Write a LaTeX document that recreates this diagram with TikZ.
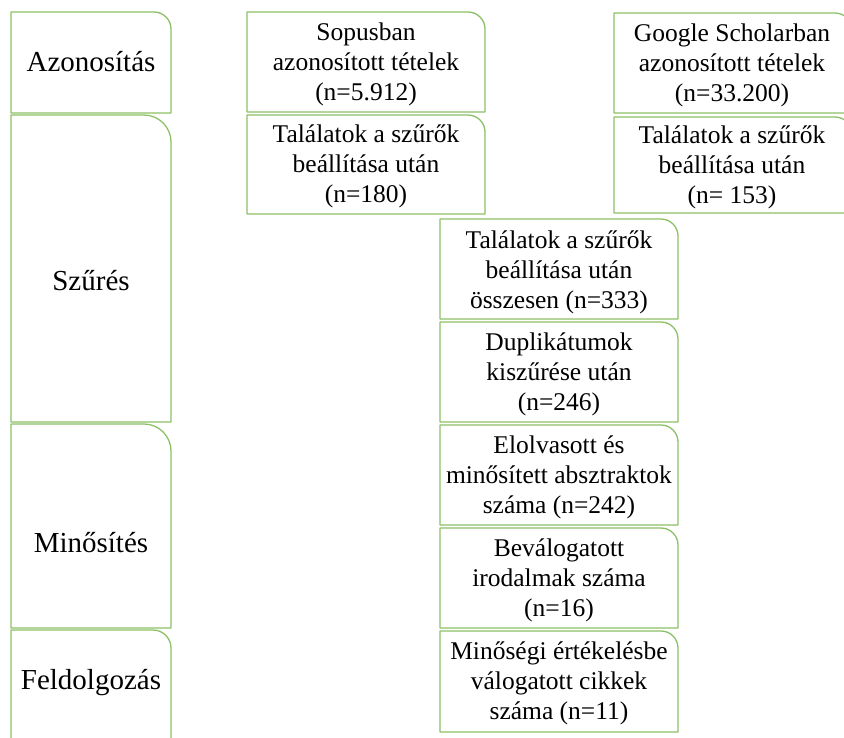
\documentclass[tikz,border=0pt]{standalone}
\usepackage{fontspec}
\setmainfont{Liberation Serif}
\usepackage{xcolor}
\usepackage{tikz}
\usetikzlibrary{positioning}

\definecolor{boxgreen}{RGB}{140,192,102}

% box with one rounded corner (top right): left, top, right, bottom, radius
\newcommand{\stagebox}[5]{%
  \draw[stageline] (#1,#4) -- (#1,#2) -- ({#3-#5},#2)
    .. controls ({#3-0.448*#5},#2) and (#3,{#2+0.448*#5}) .. (#3,{#2+#5})
    -- (#3,#4) -- cycle;
}

\tikzset{
  stageline/.style={draw=boxgreen, line width=1.3pt, line join=round},
  phase/.style={font=\fontsize{29}{34}\selectfont, align=center},
  stepbox/.style={font=\fontsize{25.5}{30}\selectfont, align=center, inner sep=0pt}
}

\begin{document}
\begin{tikzpicture}[x=1pt, y=-1pt]
    \path[use as bounding box, clip] (0,0) rectangle (844,737);

    % fázisok (bal oszlop)
    \stagebox{11}{12}{171}{113}{17}
    \stagebox{11}{115}{171}{422}{27}
    \stagebox{11}{424}{171}{628}{27}
    \stagebox{11}{630}{171}{760}{18}
    \node[phase] (azon) at (91,62) {Azonosítás};
    \node[phase] (szures) at (91,281) {Szűrés};
    \node[phase] (minos) at (91,543) {Minősítés};
    \node[phase] (feldolg) at (91,683) {Feldolgozás};

    % Scopus ág
    \stagebox{247}{12}{485}{112}{17}
    \stagebox{247}{115}{485}{214}{17}
    \node[stepbox] (scopus) at (366,64) {Sopusban\\azonosított tételek\\(n=5.912)};
    \node[stepbox] (scopusf) at (366,166) {Találatok a szűrők\\beállítása után\\(n=180)};

    % Google Scholar ág
    \stagebox{614}{13}{852}{113}{17}
    \stagebox{614}{117}{852}{213}{17}
    \node[stepbox] (gs) at (732,65) {Google Scholarban\\azonosított tételek\\(n=33.200)};
    \node[stepbox] (gsf) at (732,167) {Találatok a szűrők\\beállítása után\\(n= 153)};

    % közös lépések
    \stagebox{440}{219}{678}{319}{17}
    \stagebox{440}{322}{678}{422}{17}
    \stagebox{440}{425}{678}{525}{17}
    \stagebox{440}{528}{678}{628}{17}
    \stagebox{440}{631}{678}{732}{17}
    \node[stepbox] (osszes) at (559,272) {Találatok a szűrők\\beállítása után\\összesen (n=333)};
    \node[stepbox] (dupl) at (559,374) {Duplikátumok\\kiszűrése után\\(n=246)};
    \node[stepbox] (absztr) at (559,477) {Elolvasott és\\minősített absztraktok\\száma (n=242)};
    \node[stepbox] (valog) at (559,580) {Beválogatott\\irodalmak száma\\(n=16)};
    \node[stepbox] (minoseg) at (559,683) {Minőségi értékelésbe\\válogatott cikkek\\száma (n=11)};
\end{tikzpicture}
\end{document}
